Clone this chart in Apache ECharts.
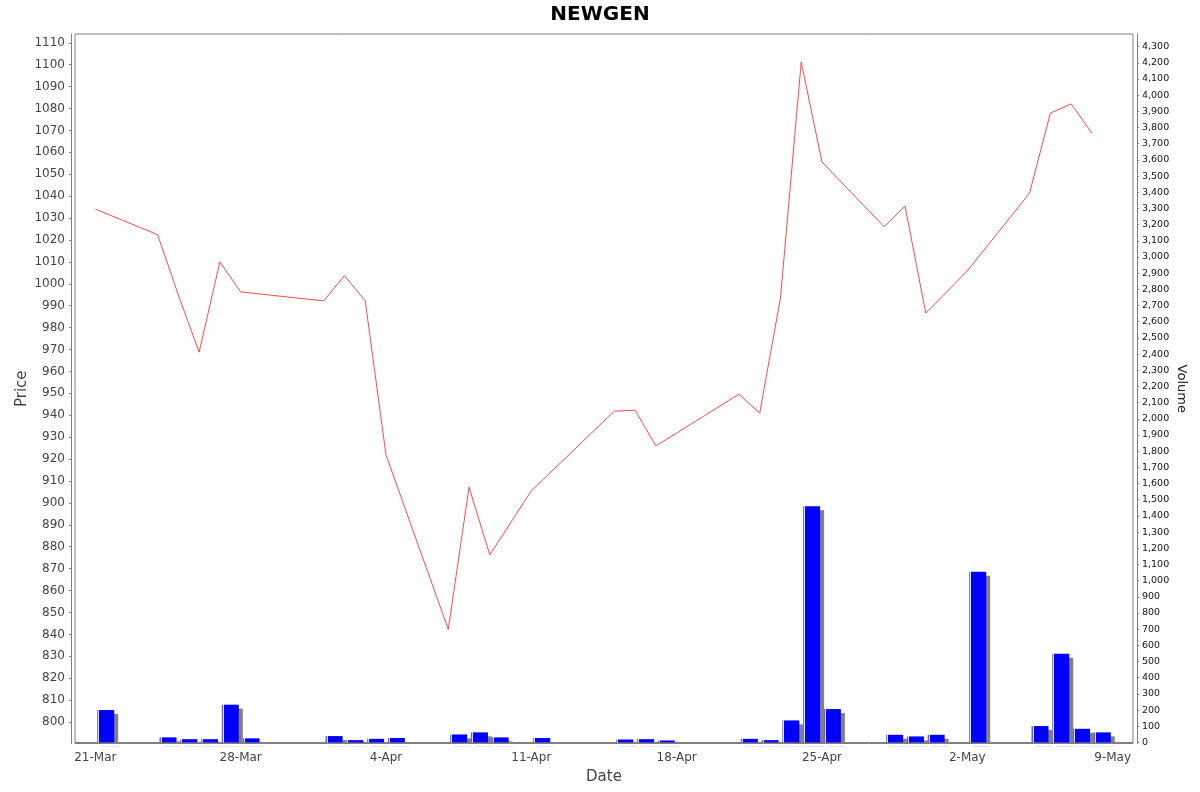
<!DOCTYPE html>
<html>

<head>
  <meta charset="utf-8">
  <script src="https://cdn.jsdelivr.net/npm/echarts@6.0.0/dist/echarts.min.js"></script>
  <style>
    html, body {
      margin: 0;
      padding: 0;
      background: #fff;
    }
    #chart {
      width: 1200px;
      height: 792px;
    }
  </style>
</head>

<body>
  <div id="chart"></div>
  <script>
    // trading days
    const dates = [
      '2025-03-21', '2025-03-24', '2025-03-25', '2025-03-26', '2025-03-27', '2025-03-28',
      '2025-04-01', '2025-04-02', '2025-04-03', '2025-04-04', '2025-04-07', '2025-04-08',
      '2025-04-09', '2025-04-11', '2025-04-15', '2025-04-16', '2025-04-17', '2025-04-21',
      '2025-04-22', '2025-04-23', '2025-04-24', '2025-04-25', '2025-04-28', '2025-04-29',
      '2025-04-30', '2025-05-02', '2025-05-05', '2025-05-06', '2025-05-07', '2025-05-08'
    ]
    // closing price
    const prices = [
      1034.1, 1022.4, 994.8, 968.8, 1010.0, 996.3,
      992.2, 1003.7, 992.2, 921.9, 842.3, 907.2,
      876.3, 905.5, 941.9, 942.3, 926.0, 949.6,
      941.0, 993.5, 1101.2, 1055.6, 1026.0, 1035.5,
      986.6, 1005.9, 1041.4, 1077.9, 1082.1, 1068.8
    ]
    // traded volume
    const volumes = [
      200, 31, 20, 20, 233, 25,
      39, 14, 22, 27, 49, 62,
      31, 27, 18, 20, 12, 22,
      14, 136, 1459, 206, 47, 37,
      47, 1055, 101, 548, 84, 62
    ]
    // axis ticks
    const dateTicks = ['2025-03-21', '2025-03-28', '2025-04-04', '2025-04-11', '2025-04-18', '2025-04-25', '2025-05-02', '2025-05-09']
    const priceTicks = [800, 810, 820, 830, 840, 850, 860, 870, 880, 890, 900, 910, 920, 930, 940, 950, 960, 970, 980, 990,
      1000, 1010, 1020, 1030, 1040, 1050, 1060, 1070, 1080, 1090, 1100, 1110]
    const volumeTicks = []
    for (let v = 0; v <= 4300; v += 100) volumeTicks.push(v)

    const DAY = 86400000
    const months = ['Jan', 'Feb', 'Mar', 'Apr', 'May', 'Jun', 'Jul', 'Aug', 'Sep', 'Oct', 'Nov', 'Dec']
    const ts = d => new Date(d).getTime()
    const dateLabel = v => {
      const d = new Date(v)
      return d.getUTCDate() + '-' + months[d.getUTCMonth()]
    }

    // the last bar runs to the end of its day
    const first = ts(dates[0])
    const last = ts(dates[dates.length - 1]) + DAY
    const pad = (last - first) * 0.02

    const font = 'DejaVu Sans'
    const axisGray = '#808080'

    // each day's bar covers the day, so it sits at midday
    const barBlue = new echarts.graphic.LinearGradient(0, 0, 1, 0, [
      { offset: 0, color: '#5a5aff' },
      { offset: 0.06, color: '#5a5aff' },
      { offset: 0.06, color: '#e6e6ff' },
      { offset: 0.12, color: '#e6e6ff' },
      { offset: 0.12, color: '#0000ff' },
      { offset: 1, color: '#0000ff' }
    ])

    const option = {
      animation: false,
      backgroundColor: '#fff',
      title: {
        text: 'NEWGEN',
        left: 'center',
        top: 0,
        textStyle: { fontFamily: font, fontSize: 20, fontWeight: 'bold', color: '#000' }
      },
      grid: {
        left: 75,
        right: 67,
        top: 34,
        bottom: 48.5,
        containLabel: false,
        outerBoundsMode: 'none',
        show: true,
        borderColor: axisGray,
        borderWidth: 1,
        backgroundColor: '#fff'
      },
      xAxis: {
        type: 'value',
        min: first - pad,
        max: last + pad,
        offset: 4,
        name: 'Date',
        nameLocation: 'middle',
        nameGap: 22,
        nameMoveOverlap: false,
        nameTextStyle: { fontFamily: font, fontSize: 15, color: '#444' },
        axisLine: { lineStyle: { color: axisGray } },
        axisTick: { length: 2, lineStyle: { color: axisGray }, customValues: dateTicks.map(ts) },
        axisLabel: {
          customValues: dateTicks.map(ts),
          formatter: dateLabel,
          fontFamily: font,
          fontSize: 12,
          color: '#444',
          margin: 4,
          showMinLabel: true,
          showMaxLabel: true,
          hideOverlap: false
        },
        splitLine: { show: false }
      },
      yAxis: [{
        type: 'value',
        position: 'left',
        min: 790.2,
        max: 1114,
        offset: 4,
        name: 'Price',
        nameLocation: 'middle',
        nameRotate: 90,
        nameGap: 41,
        nameMoveOverlap: false,
        nameTextStyle: { fontFamily: font, fontSize: 15, color: '#444' },
        axisLine: { show: true, lineStyle: { color: axisGray } },
        axisTick: { show: true, length: 2, lineStyle: { color: axisGray }, customValues: priceTicks },
        axisLabel: {
          customValues: priceTicks,
          formatter: v => String(v),
          fontFamily: font,
          fontSize: 12,
          color: '#444',
          margin: 6,
          showMinLabel: true,
          showMaxLabel: true
        },
        splitLine: { show: false }
      }, {
        type: 'value',
        position: 'right',
        min: -6.8,
        max: 4378,
        offset: 4,
        name: 'Volume',
        nameLocation: 'middle',
        nameRotate: -90,
        nameGap: 38,
        nameMoveOverlap: false,
        nameTextStyle: { fontFamily: font, fontSize: 13, color: '#222' },
        axisLine: { show: true, lineStyle: { color: axisGray } },
        axisTick: { show: true, length: 2, lineStyle: { color: axisGray }, customValues: volumeTicks },
        axisLabel: {
          customValues: volumeTicks,
          formatter: v => v.toLocaleString('en-US'),
          fontFamily: font,
          fontSize: 9.5,
          color: '#111',
          margin: 5,
          showMinLabel: true,
          showMaxLabel: true
        },
        splitLine: { show: false }
      }],
      series: [{
        name: 'Volume',
        type: 'bar',
        yAxisIndex: 1,
        barWidth: 17,
        data: dates.map((d, i) => [ts(d) + DAY / 2, volumes[i]]),
        itemStyle: {
          color: barBlue,
          shadowColor: '#808080',
          shadowOffsetX: 4,
          shadowOffsetY: 4,
          shadowBlur: 0
        },
        z: 2
      }, {
        name: 'Price',
        type: 'line',
        yAxisIndex: 0,
        data: dates.map((d, i) => [ts(d), prices[i]]),
        showSymbol: false,
        lineStyle: { color: '#ff4a4a', width: 1 },
        itemStyle: { color: '#ff4a4a' },
        z: 3
      }],
      graphic: [{
        // hide the part of the bar shadows that falls under the plot
        type: 'rect',
        z: 10,
        shape: { x: 74, y: 744, width: 1062, height: 2.4 },
        style: { fill: '#fff' }
      }]
    }
    drawChart('#chart', option)

    function drawChart(selector, option) {
      const chartDom = document.querySelector(selector)
      const chart = echarts.init(chartDom)
      chart.setOption(option)
    }
  </script>
</body>

</html>
